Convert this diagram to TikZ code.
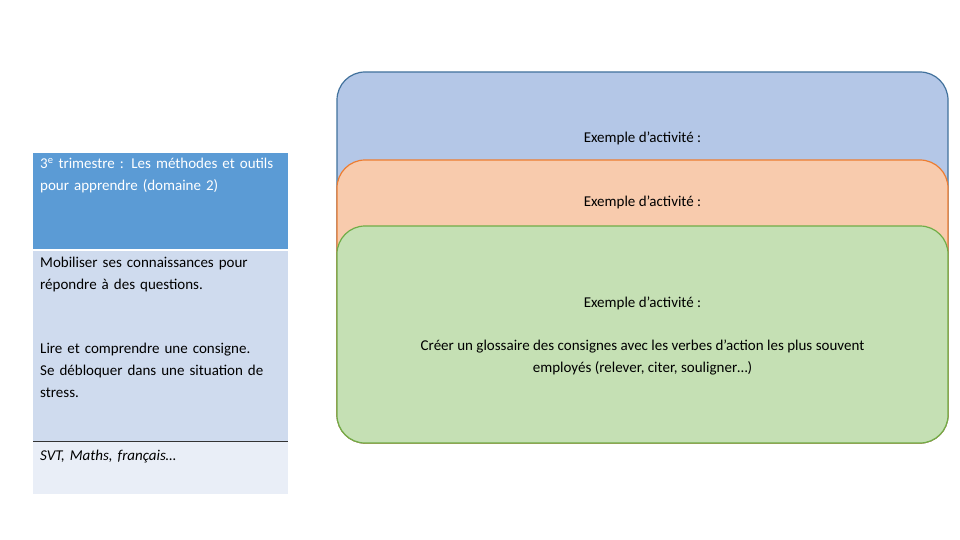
\documentclass[tikz,border=0pt]{standalone}
\usepackage{fontspec}
\setmainfont{Carlito}
\usetikzlibrary{positioning}
\definecolor{hdblue}{HTML}{5B9BD5}
\definecolor{rowblue}{HTML}{CFDBEE}
\definecolor{rowpale}{HTML}{E9EEF7}
\definecolor{boxblue}{HTML}{B4C7E7}
\definecolor{lineblue}{HTML}{41719C}
\definecolor{boxorange}{HTML}{F8CBAD}
\definecolor{lineorange}{HTML}{ED7D31}
\definecolor{boxgreen}{HTML}{C5E0B4}
\definecolor{linegreen}{HTML}{70AD47}
\tikzset{
  cell/.style={anchor=north west, text width=245pt, align=left, inner sep=0pt,
    font=\fontsize{15}{22}\selectfont},
  card/.style={rounded corners=28pt, line width=1.2pt},
  cardtext/.style={align=center, font=\fontsize{15}{22}\selectfont}
}
\begin{document}
\begin{tikzpicture}[x=1pt, y=-1pt]
\useasboundingbox (0,0) rectangle (960,540);
% table on the left
\fill[hdblue] (33,153) rectangle (288,249);
\fill[rowblue] (33,251) rectangle (288,441);
\fill[rowpale] (33,442) rectangle (288,494);
\draw[black!80, line width=0.8pt] (33,441.5) -- (288,441.5);
\node[cell, text=white] (head) at (40,158) {3\textsuperscript{e} trimestre : Les méthodes et outils pour apprendre (domaine 2)};
\node[cell] (skill) at (40,257) {Mobiliser ses connaissances pour répondre à des questions.};
\node[cell] (read) at (40,343) {Lire et comprendre une consigne. Se débloquer dans une situation de stress.};
\node[cell, font=\fontsize{15}{22}\selectfont\itshape] (subj) at (40,450) {SVT, Maths, français…};
% cards
\draw[card, fill=boxblue, draw=lineblue] (337,443) rectangle (948,72);
\node[cardtext] (ex1) at (642.5,138) {Exemple d’activité :};
\draw[card, fill=boxorange, draw=lineorange] (337,443) rectangle (948,160);
\node[cardtext] (ex2) at (642.5,202) {Exemple d’activité :};
\draw[card, fill=boxgreen, draw=linegreen] (337,443) rectangle (948,226);
\node[cardtext] (ex3) at (642.5,303) {Exemple d’activité :};
\node[cardtext] (task) at (642.5,357) {Créer un glossaire des consignes avec les verbes d’action les plus souvent\\employés (relever, citer, souligner…)};
\end{tikzpicture}
\end{document}
